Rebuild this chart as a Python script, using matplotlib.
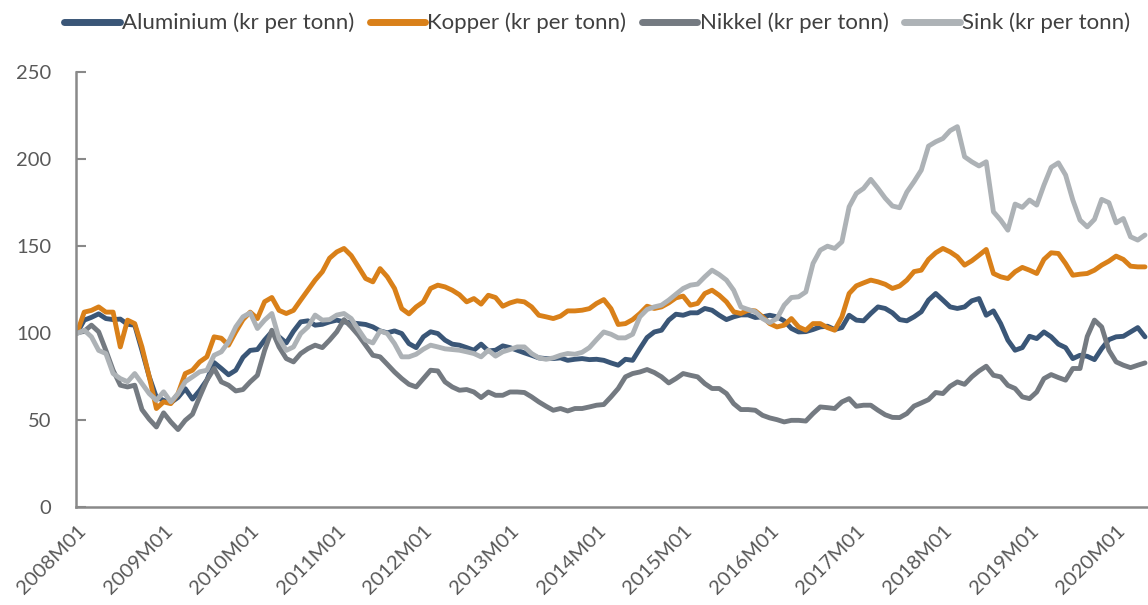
import matplotlib
matplotlib.use("Agg")
import matplotlib.pyplot as plt
import numpy as np

months = [f"{y}M{m:02d}" for y in range(2008, 2021) for m in range(1, 13)][:149]

aluminium = [100, 107.4, 109, 111, 108.3, 107.7, 108, 105, 104.5, 90, 75, 63, 61.3, 60, 63, 68, 62, 67, 73, 83,
             79.6, 76, 78.6, 86, 90, 90.5, 96, 100.7, 97.8, 94.3, 101, 106.4, 107, 104.5, 105, 106.4, 107.4, 106.4, 105.8, 105.4,
             104.9, 103.5, 101.2, 100.1, 101.2, 99.7, 93.9, 91.6, 97.8, 100.7, 99.7, 95.9, 93.6, 93, 91.6, 90.1, 93.6, 89.7, 90.1, 92.6,
             91.6, 90.1, 88.6, 87.2, 85.7, 85.3, 85.3, 85.7, 84.3, 84.9, 85.3, 84.7, 84.9, 84.3, 82.8, 81.5, 84.9, 84.3, 91, 97.4,
             100.6, 101.6, 107.4, 110.8, 110.2, 111.6, 111.6, 114.1, 113.1, 110.2, 107.7, 109.3, 110.4, 110.4, 108.9, 109.3, 110.2, 109.3, 107, 102.6,
             100.6, 100.8, 102, 103.5, 103.9, 102, 103.1, 110.2, 107.4, 107, 111.2, 115, 114.1, 111.6, 107.7, 107, 109.3, 112.2, 118.9, 122.7,
             118.9, 115, 114.1, 115, 118.5, 119.8, 110.2, 112.7, 105.4, 95.9, 90.1, 91.6, 98.1, 96.8, 100.6, 97.8, 93.6, 91.6, 85.3, 87.2,
             86.6, 84.7, 91, 96.2, 97.8, 98.1, 100.6, 103.1, 97.8]

kopper = [100, 112, 113, 115, 112, 112, 92, 107.4, 105.4, 92, 75, 56.6, 60.4, 59.4, 65.2, 76.7, 78.6, 83.4, 86.3, 97.8,
          97, 93, 100.7, 107.7, 112, 108.3, 118, 120.4, 113, 111.2, 113, 118.9, 124.6, 130.4, 135.2, 143, 146.6, 148.6, 144.5, 138,
          131.3, 129.4, 137, 132.3, 125.6, 114, 111, 115, 117.9, 125.6, 127.5, 126.5, 124.6, 122, 117.9, 119.8, 116.6, 121.7, 120.4, 115.4,
          117.3, 118.5, 117.9, 115, 110.2, 109.3, 108.3, 109.7, 112.7, 112.7, 113.1, 114, 117, 119.2, 114, 104.9, 105.4, 107.7, 111.2, 115.4,
          114.1, 115, 117.3, 120.2, 121.2, 116, 117, 122.7, 124.6, 121.7, 117.9, 112.2, 111.2, 113.1, 112.7, 109.3, 105.4, 103.5, 104.5, 108.3,
          103.5, 101.6, 105.4, 105.4, 103.1, 101.6, 109.3, 122.7, 127.1, 128.8, 130.4, 129.4, 128, 125.6, 127, 130.4, 135.3, 136.1, 142.3, 146.1,
          148.6, 146.6, 143.8, 139, 141.5, 144.7, 148, 134.2, 132.3, 131.3, 135.2, 137.7, 136.1, 134.2, 142.3, 146.1, 145.7, 139.9, 133.2, 133.8,
          134.2, 136.1, 139, 141.3, 144.2, 142.3, 138.4, 138, 138]

nikkel = [100, 101, 104.5, 100.7, 90, 78.6, 70, 69, 70, 56, 50.5, 46, 54.1, 48.9, 44.5, 49.8, 53.3, 63.3, 72.9, 79.6,
          71.9, 70, 66.7, 67.5, 71.9, 75.7, 90, 101.6, 92, 85.3, 83.4, 88.2, 91, 93, 91.6, 95.9, 100.7, 107.7, 103.5, 98.7,
          93, 87.2, 86.3, 82, 77.6, 73.8, 70.5, 69, 73.8, 78.6, 78.2, 71.9, 69, 67.1, 67.5, 66.1, 62.9, 66.1, 64.2, 64.2,
          66.1, 66.1, 65.8, 63.3, 60.4, 57.9, 55.6, 56.6, 55.2, 56.6, 56.6, 57.5, 58.5, 58.9, 63.3, 68.1, 74.8, 76.7, 77.6, 79,
          77.3, 74.8, 71.3, 73.8, 76.7, 75.7, 74.8, 70.9, 68.1, 68.1, 65.2, 59.4, 56, 56, 55.6, 52.7, 51.2, 50.2, 48.9, 49.8,
          49.8, 49.4, 53.7, 57.5, 57.1, 56.6, 60.4, 62.3, 57.9, 58.5, 58.5, 55.6, 53, 51.5, 51.4, 53.7, 58, 59.8, 61.7, 65.8,
          65.2, 69.4, 71.9, 70.5, 74.8, 78.2, 80.9, 75.7, 74.8, 69.9, 68.1, 63.3, 62.3, 66.1, 73.8, 76.1, 74.4, 72.9, 79.6, 79.6,
          98, 107.4, 103.5, 90.1, 83.4, 81.5, 80.1, 81.5, 82.8]

sink = [99.7, 101.6, 97.8, 90, 88.2, 76.7, 73.8, 72, 76.7, 71, 65.2, 61.3, 66.2, 60.4, 65.2, 72, 74.8, 77.7, 78.6, 87.2,
        89.2, 94.9, 103.5, 109.3, 111.6, 102.6, 107.4, 111.2, 96.8, 90, 92, 99.7, 103.5, 110.3, 107.4, 107.7, 110.3, 111.2, 108.3, 102,
        95.9, 94.3, 101.2, 99.7, 93.9, 86.3, 86.3, 87.8, 90.7, 93, 92, 90.9, 90.5, 90.1, 89.2, 88.2, 86.3, 90.1, 86.7, 89.2,
        90.5, 92, 92, 88.2, 85.7, 84.9, 85.7, 87.2, 88.2, 87.8, 88.9, 91.6, 96.2, 100.6, 99.3, 97.2, 97.2, 99.3, 109.3, 113.5,
        115, 116, 118.9, 122.3, 125.6, 127.5, 128.1, 132.3, 136.1, 133.6, 130.4, 124.6, 115, 113.5, 112.2, 108.3, 106, 108.3, 116, 120.4,
        120.8, 123.6, 140, 147.6, 149.9, 148.6, 152.4, 172.5, 180.2, 183.1, 188.3, 183.1, 177.5, 173, 172, 181, 187, 193.6, 207.4, 209.9,
        211.8, 216.3, 218.6, 201.3, 198.4, 196, 198.4, 169.7, 164.9, 159.1, 174.1, 172.2, 176.4, 173.5, 185, 195.2, 197.8, 190.8, 176.4, 164.9,
        161, 165.3, 176.8, 174.9, 163.3, 165.8, 155.3, 153.4, 156.3]

series = [
    ("Aluminium (kr per tonn)", aluminium, "#3a5677"),
    ("Kopper (kr per tonn)", kopper, "#d98019"),
    ("Nikkel (kr per tonn)", nikkel, "#747a81"),
    ("Sink (kr per tonn)", sink, "#adb2b6"),
]

plt.rcParams['font.family'] = ['Lato', 'DejaVu Sans']

W, H = 1148, 605
fig = plt.figure(figsize=(W / 100, H / 100), dpi=100)
ax = fig.add_axes([76 / W, (H - 507) / H, (W - 76) / W, 435 / H])

x = np.arange(len(months))
for name, vals, col in series:
    ax.plot(x, vals, color=col, lw=3.5, label=name, solid_joinstyle='round', solid_capstyle='round')

ax.set_ylim(0, 250)
ax.set_xlim(-0.14, 148.42)
ax.set_yticks([0, 50, 100, 150, 200, 250])
ax.set_yticklabels(["0", "50", "100", "150", "200", "250"], fontsize=14.5, color="#595959")
tick_idx = list(range(0, 149, 12))
ax.set_xticks(tick_idx)
ax.set_xticklabels([months[i] for i in tick_idx], rotation=45, ha='right', va='top',
                   rotation_mode='anchor', fontsize=14.5, color="#595959")
ax.tick_params(axis='x', length=0, pad=11)
ax.tick_params(axis='y', direction='in', length=7, width=1.5, color="#898989", pad=18)
for s in ['top', 'right']:
    ax.spines[s].set_visible(False)
for s in ['left', 'bottom']:
    ax.spines[s].set_color("#898989")
    ax.spines[s].set_linewidth(1.8)
ax.set_facecolor('white')

leg = fig.legend(loc='upper center', bbox_to_anchor=(0.52, 1.012), ncol=4, frameon=False,
                 fontsize=16, handlelength=2.5, handletextpad=0.1, columnspacing=0.7, labelcolor="#404040")
for h in leg.get_lines():
    h.set_linewidth(5)

fig.savefig("out.png", dpi=100)
